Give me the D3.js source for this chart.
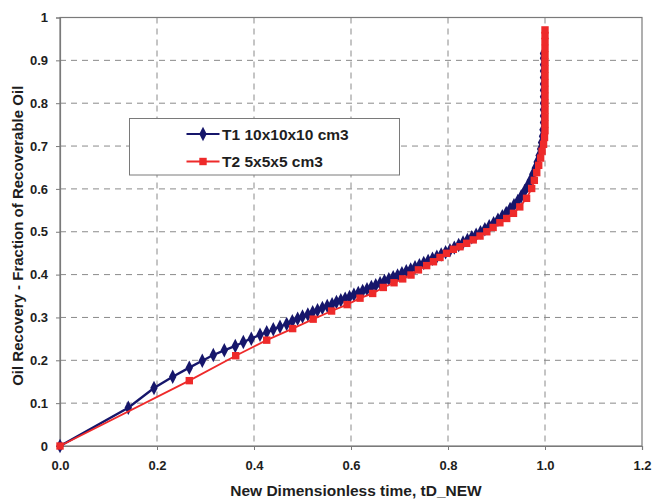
<!DOCTYPE html>
<html><head><meta charset="utf-8">
<script src="https://cdn.jsdelivr.net/npm/d3@7"></script>
<style>
html,body{margin:0;padding:0;background:#fff;}
svg{display:block;font-family:"Liberation Sans",Arial,sans-serif;font-weight:bold;}
</style></head>
<body><svg id="chart" width="653" height="499"></svg>
<script>
// ---- data ----
const seriesNames = ["T1 10x10x10 cm3", "T2 5x5x5 cm3"];
const xTicks = [0.0, 0.2, 0.4, 0.6, 0.8, 1.0, 1.2];
const yTicks = [0, 0.1, 0.2, 0.3, 0.4, 0.5, 0.6, 0.7, 0.8, 0.9, 1];
const xLabel = "New Dimensionless time, tD_NEW";
const yLabel = "Oil Recovery - Fraction of Recoverable Oil";

const t1X = [0,0.1408,0.1938,0.2324,0.2666,0.2934,0.3161,0.3388,0.3614,0.378,0.3944,0.4124,0.4262,0.4398,0.4536,0.4674,
 0.479,0.490,0.500,0.511,0.521,0.531,0.541,0.551,0.561,0.570,0.579,0.588,0.597,0.606,0.615,0.624,0.633,0.642,0.651,0.660,
 0.669,0.678,0.687,0.696,0.705,0.714,0.723,0.732,0.741,0.750,0.759,0.768,0.777,0.786,0.795,0.804,0.813,0.822,0.831,0.840,
 0.849,0.858,0.867,0.876,0.885,0.894,0.903,0.912,0.920,0.928,0.936,0.944,0.951,0.958,0.964,0.970,0.975,0.980,0.984,0.988,
 0.991,0.993,0.995,0.996,0.997,0.997,0.997,0.997,0.997,0.997,0.997,0.997,0.997,0.997,0.997,0.997];
const t1Y = [0,0.0894,0.1354,0.1618,0.1828,0.199,0.2124,0.2233,0.2334,0.2427,0.2504,0.2598,0.2653,0.2723,0.2785,0.2847,
 0.291,0.297,0.302,0.307,0.312,0.317,0.322,0.327,0.331,0.336,0.340,0.344,0.348,0.353,0.357,0.362,0.366,0.371,0.375,0.380,
 0.385,0.389,0.394,0.398,0.403,0.408,0.412,0.417,0.422,0.427,0.432,0.437,0.442,0.447,0.452,0.457,0.463,0.469,0.475,0.481,
 0.487,0.493,0.499,0.506,0.513,0.520,0.528,0.536,0.544,0.553,0.562,0.572,0.583,0.595,0.607,0.620,0.634,0.648,0.663,0.678,
 0.693,0.708,0.723,0.738,0.755,0.770,0.785,0.800,0.815,0.830,0.845,0.860,0.875,0.890,0.905,0.916];

const t2X = [0,0.2666,0.3623,0.4262,0.4797,0.522,0.560,0.592,0.6186,0.6447,0.6666,0.6887,0.7066,0.7237,0.739,0.756,0.770,
 0.7835,0.797,0.811,0.8247,0.8385,0.852,0.866,0.880,0.893,0.907,0.921,0.935,0.948,0.962,0.9725,0.978,0.983,0.987,0.991,
 0.994,0.997,0.999,1.0,1.0,1.0,1.0,1.0,1.0,1.0,1.0,1.0,1.0,1.0,1.0,1.0,1.0,1.0,1.0];
const t2Y = [0,0.1525,0.2107,0.247,0.274,0.296,0.315,0.330,0.345,0.356,0.370,0.381,0.390,0.399,0.411,0.421,0.430,
 0.440,0.4497,0.459,0.465,0.473,0.481,0.490,0.500,0.510,0.521,0.531,0.543,0.558,0.578,0.601,0.620,0.638,0.655,0.672,
 0.688,0.704,0.720,0.736,0.752,0.768,0.784,0.800,0.816,0.832,0.848,0.864,0.880,0.896,0.912,0.928,0.944,0.958,0.971];

// ---- layout ----
const svg = d3.select("#chart");
const L = 60, R = 642, T = 17.5, B = 446;
const x = d3.scaleLinear().domain([0, 1.2]).range([L, R]);
const y = d3.scaleLinear().domain([0, 1]).range([B, T]);
const gridCol = "#8a8a8a", axisCol = "#7a7a7a", textCol = "#1e1e1e";

// grid
svg.append("g").selectAll("line").data(yTicks.filter(v => v > 0 && v < 1)).join("line")
  .attr("x1", L).attr("x2", R).attr("y1", d => y(d)).attr("y2", d => y(d))
  .attr("stroke", gridCol).attr("stroke-width", 1).attr("stroke-dasharray", "6,5");
svg.append("g").selectAll("line").data(xTicks.filter(v => v > 0 && v < 1.2)).join("line")
  .attr("y1", T).attr("y2", B).attr("x1", d => x(d)).attr("x2", d => x(d))
  .attr("stroke", gridCol).attr("stroke-width", 1).attr("stroke-dasharray", "6,5");

// frame
svg.append("rect").attr("x", L).attr("y", T).attr("width", R - L).attr("height", B - T)
  .attr("fill", "none").attr("stroke", axisCol).attr("stroke-width", 1.2);

// axes
const xAxis = svg.append("g").attr("transform", `translate(0,${B})`)
  .call(d3.axisBottom(x).tickValues(xTicks).tickFormat(d3.format(".1f")).tickSize(4).tickPadding(11));
const yAxis = svg.append("g").attr("transform", `translate(${L},0)`)
  .call(d3.axisLeft(y).tickValues(yTicks).tickFormat(d => d === 0 || d === 1 ? String(d) : d3.format(".1f")(d)).tickSize(4).tickPadding(8));
[xAxis, yAxis].forEach(g => {
  g.select(".domain").attr("stroke", axisCol).attr("stroke-width", 1.2);
  g.selectAll(".tick line").attr("stroke", axisCol);
  g.selectAll("text").attr("fill", textCol).attr("font-size", 13).attr("font-weight", "bold")
    .attr("font-family", "Liberation Sans, Arial, sans-serif");
});

// axis titles
svg.append("text").attr("x", 356).attr("y", 496).attr("text-anchor", "middle")
  .attr("font-size", 15.5).attr("fill", textCol).text(xLabel);
svg.append("text").attr("transform", `translate(23,${(B + T) / 2 + 4}) rotate(-90)`).attr("text-anchor", "middle")
  .attr("font-size", 15).attr("fill", textCol).text(yLabel);

// series
const navy = "#16166b", red = "#ee2a2a";
const t1 = t1X.map((v, i) => [v, t1Y[i]]);
const t2 = t2X.map((v, i) => [v, t2Y[i]]);
const line = d3.line().x(d => x(d[0])).y(d => y(d[1]));
const diamond = d3.symbol().type(d3.symbolDiamond).size(48);

svg.append("path").datum(t1).attr("d", line).attr("fill", "none").attr("stroke", navy).attr("stroke-width", 2.4);
svg.append("g").selectAll("path").data(t1).join("path")
  .attr("transform", d => `translate(${x(d[0])},${y(d[1])}) scale(1,1.12)`).attr("d", diamond).attr("fill", navy);

svg.append("path").datum(t2).attr("d", line).attr("fill", "none").attr("stroke", red).attr("stroke-width", 1.8);
svg.append("g").selectAll("rect").data(t2).join("rect")
  .attr("x", d => x(d[0]) - 3.7).attr("y", d => y(d[1]) - 3.7).attr("width", 7.4).attr("height", 7.4).attr("fill", red);

// legend
const lg = svg.append("g");
lg.append("rect").attr("x", 129.5).attr("y", 118.5).attr("width", 270).attr("height", 56.5)
  .attr("fill", "#fff").attr("stroke", "#7a7a7a").attr("stroke-width", 1);
const rows = [{name: seriesNames[0], col: navy, yy: 134, shape: "d"}, {name: seriesNames[1], col: red, yy: 161.5, shape: "s"}];
rows.forEach(r => {
  lg.append("line").attr("x1", 186.5).attr("x2", 219.5).attr("y1", r.yy).attr("y2", r.yy)
    .attr("stroke", r.col).attr("stroke-width", r.shape === "d" ? 2.2 : 1.8);
  if (r.shape === "d") {
    lg.append("path").attr("transform", `translate(203,${r.yy}) scale(1,1.12)`).attr("d", diamond).attr("fill", r.col);
  } else {
    lg.append("rect").attr("x", 203 - 3.7).attr("y", r.yy - 3.7).attr("width", 7.4).attr("height", 7.4).attr("fill", r.col);
  }
  lg.append("text").attr("x", 222).attr("y", r.yy + 5.5).attr("font-size", 15.5).attr("fill", textCol).text(r.name);
});
</script></body></html>
